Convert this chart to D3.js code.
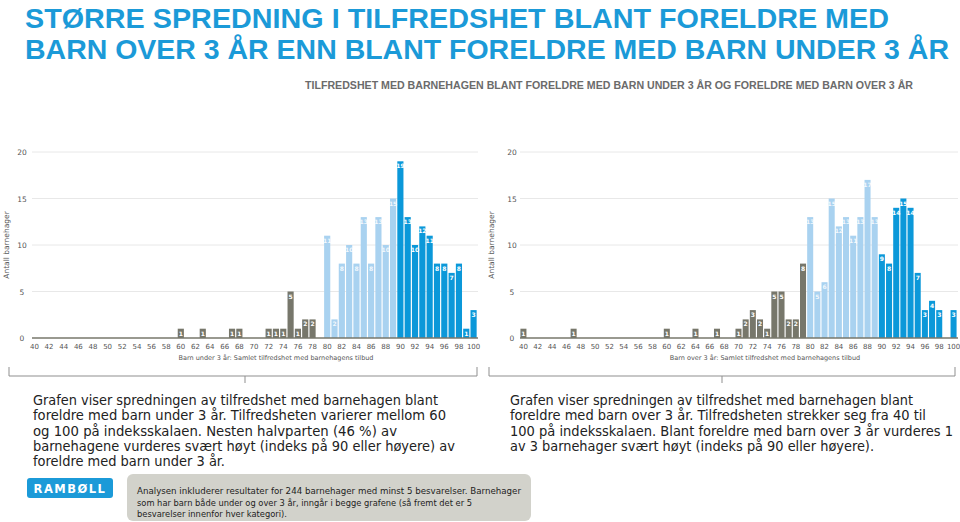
<!DOCTYPE html>
<html>
<head>
<meta charset="utf-8">
<script src="https://cdn.jsdelivr.net/npm/d3@7"></script>
<style>
body{margin:0;background:#fff;}
svg{display:block;}
</style>
</head>
<body>
<svg id="chart" width="960" height="522"></svg>
<script>
// score categories 40..100
let scores=[40,41,42,43,44,45,46,47,48,49,50,51,52,53,54,55,56,57,58,59,
  60,61,62,63,64,65,66,67,68,69,70,71,72,73,74,75,76,77,78,79,
  80,81,82,83,84,85,86,87,88,89,90,91,92,93,94,95,96,97,98,99,100];
let tickLabels=[40,42,44,46,48,50,52,54,56,58,60,62,64,66,68,70,72,74,76,78,80,82,84,86,88,90,92,94,96,98,100];
let yTicks=[0,5,10,15,20];

// antall barnehager per indeksverdi
let under3=[0,0,0,0,0,0,0,0,0,0,0,0,0,0,0,0,0,0,0,0,
  1,0,0,1,0,0,0,1,1,0,0,0,1,1,1,5,1,2,2,0,
  11,2,8,10,8,13,8,13,10,15,19,13,10,12,11,8,8,7,8,1,3];
let over3=[1,0,0,0,0,0,0,1,0,0,0,0,0,0,0,0,0,0,0,0,
  1,0,0,0,1,0,0,1,0,0,1,2,3,2,1,5,5,2,2,8,
  13,5,6,15,12,13,11,13,17,13,9,8,14,15,14,7,3,4,3,0,3];

let svg=d3.select("#chart");
let titleColor="#1b9ad8";

function barColor(s){
  if(s<80) return "#77776b";
  if(s<90) return "#a9d2f0";
  return "#0b98d9";
}

// titles (small font, stretched vertically so the text keeps its natural width)
function stretchedText(x,y,len,size,sy,color,txt){
  svg.append("g").attr("transform","translate("+x+","+y+") scale(1,"+sy+")")
    .append("text").attr("x",0).attr("y",0)
    .attr("textLength",len).attr("lengthAdjust","spacingAndGlyphs")
    .style("font-family","Liberation Sans, Arial, sans-serif")
    .style("font-weight","bold").style("font-size",size+"px").style("fill",color)
    .text(txt);
}
stretchedText(25,27.5,864,23,1.2,titleColor,"STØRRE SPREDNING I TILFREDSHET BLANT FORELDRE MED");
stretchedText(25,59,924,23,1.2,titleColor,"BARN OVER 3 ÅR ENN BLANT FORELDRE MED BARN UNDER 3 ÅR");
stretchedText(305,89,608,9,1.25,"#6b6b6b","TILFREDSHET MED BARNEHAGEN BLANT FORELDRE MED BARN UNDER 3 ÅR OG FORELDRE MED BARN OVER 3 ÅR");

function drawChart(values,opt){
  let g=svg.append("g");
  let step=(opt.x100-opt.x40)/60;
  let xScale=d3.scaleBand().domain(scores)
    .range([opt.x40-step/2,opt.x100+step/2]).paddingInner(0.16).paddingOuter(0);
  let yScale=d3.scaleLinear().domain([0,20]).range([338,152]);

  // grid
  g.selectAll(".grid").data(yTicks.slice(1)).enter().append("line")
    .attr("x1",opt.gridL).attr("x2",opt.gridR)
    .attr("y1",d=>yScale(d)).attr("y2",d=>yScale(d))
    .attr("stroke","#e8e8e8").attr("stroke-width",1);

  g.selectAll(".ylab").data(yTicks).enter().append("text")
    .attr("x",opt.yLabX).attr("y",d=>yScale(d)+3)
    .attr("text-anchor","middle")
    .style("font-family","DejaVu Sans, sans-serif").style("font-size","7.5px").style("fill","#555")
    .text(d=>d);

  g.append("text")
    .attr("transform","translate("+opt.yTitleX+",245) rotate(-90)")
    .attr("text-anchor","middle")
    .style("font-family","DejaVu Sans, sans-serif").style("font-size","7.5px").style("fill","#555")
    .text("Antall barnehager");

  let data=scores.map((s,i)=>({s:s,v:values[i]})).filter(d=>d.v>0);

  g.selectAll(".bar").data(data).enter().append("rect")
    .attr("x",d=>xScale(d.s))
    .attr("width",xScale.bandwidth())
    .attr("y",d=>yScale(d.v))
    .attr("height",d=>yScale(0)-yScale(d.v))
    .attr("fill",d=>barColor(d.s));

  g.selectAll(".blab").data(data).enter().append("text")
    .attr("x",d=>xScale(d.s)+xScale.bandwidth()/2)
    .attr("y",d=>yScale(d.v)+7)
    .attr("text-anchor","middle")
    .style("font-family","DejaVu Sans, sans-serif").style("font-weight","bold")
    .style("font-size","6px").style("fill","#fff")
    .style("opacity",d=>d.s>=80&&d.s<90?0.85:1)
    .text(d=>d.v);

  // baseline
  g.append("line").attr("x1",opt.gridL).attr("x2",opt.gridR)
    .attr("y1",yScale(0)).attr("y2",yScale(0))
    .attr("stroke","#77776b").attr("stroke-width",1.5);

  g.selectAll(".xlab").data(tickLabels).enter().append("text")
    .attr("x",d=>xScale(d)+xScale.bandwidth()/2)
    .attr("y",349)
    .attr("text-anchor","middle")
    .style("font-family","DejaVu Sans, sans-serif").style("font-size","7px").style("fill","#555")
    .text(d=>d);

  g.append("text").attr("x",opt.xTitleX).attr("y",360)
    .attr("text-anchor","middle")
    .style("font-family","DejaVu Sans, sans-serif").style("font-size","6.5px").style("fill","#555")
    .text(opt.xTitle);

  // bracket
  let b=opt.bracket;
  g.append("path")
    .attr("d","M"+b[0]+",367 V376 H"+b[1]+" V367 M"+b[2]+",376 V383")
    .attr("fill","none").attr("stroke","#8f8f8f").attr("stroke-width",1);
}

drawChart(under3,{x40:35,x100:473,gridL:32,gridR:478,yLabX:22,yTitleX:9,
  xTitleX:276,xTitle:"Barn under 3 år: Samlet tilfredshet med barnehagens tilbud",bracket:[9,477,245]});
drawChart(over3,{x40:524,x100:953,gridL:520,gridR:958,yLabX:512,yTitleX:494,
  xTitleX:765,xTitle:"Barn over 3 år: Samlet tilfredshet med barnehagens tilbud",bracket:[489,955,722]});

// paragraphs
let leftText=["Grafen viser spredningen av tilfredshet med barnehagen blant",
  "foreldre med barn under 3 år. Tilfredsheten varierer mellom 60",
  "og 100 på indeksskalaen. Nesten halvparten (46 %) av",
  "barnehagene vurderes svært høyt (indeks på 90 eller høyere) av",
  "foreldre med barn under 3 år."];
let rightText=["Grafen viser spredningen av tilfredshet med barnehagen blant",
  "foreldre med barn over 3 år. Tilfredsheten strekker seg fra 40 til",
  "100 på indeksskalaen. Blant foreldre med barn over 3 år vurderes 1",
  "av 3 barnehager svært høyt (indeks på 90 eller høyere)."];
let leftW=[405,413,364,422,192];
let rightW=[403,416,443,364];

function para(lines,widths,x){
  svg.append("g").selectAll("text").data(lines).enter().append("text")
    .attr("x",x).attr("y",(d,i)=>405+i*15.3)
    .attr("textLength",(d,i)=>widths[i]).attr("lengthAdjust","spacingAndGlyphs")
    .style("font-family","DejaVu Sans Condensed, DejaVu Sans, sans-serif")
    .style("font-size","14px").style("fill","#222")
    .text(d=>d);
}
para(leftText,leftW,33);
para(rightText,rightW,510);

// logo
svg.append("rect").attr("x",27).attr("y",478).attr("width",86).attr("height",20)
  .attr("rx",3).attr("fill","#1b9ad8");
svg.append("text").attr("x",70).attr("y",492.5).attr("text-anchor","middle")
  .style("font-family","DejaVu Sans, sans-serif").style("font-weight","bold")
  .style("font-size","11.5px").style("letter-spacing","1.5px").style("fill","#fff")
  .text("RAMBØLL");

// note box
let note=["Analysen inkluderer resultater for 244 barnehager med minst 5 besvarelser. Barnehager",
  "som har barn både under og over 3 år, inngår i begge grafene (så fremt det er 5",
  "besvarelser innenfor hver kategori)."];
let noteW=[384,335,150];
svg.append("rect").attr("x",127).attr("y",474).attr("width",404).attr("height",47)
  .attr("rx",6).attr("fill","#d2d2cb");
svg.append("g").selectAll("text").data(note).enter().append("text")
  .attr("x",137).attr("y",(d,i)=>494+i*11.5)
  .attr("textLength",(d,i)=>noteW[i]).attr("lengthAdjust","spacingAndGlyphs")
  .style("font-family","DejaVu Sans, sans-serif").style("font-size","9px").style("fill","#222")
  .text(d=>d);
</script>
</body>
</html>
